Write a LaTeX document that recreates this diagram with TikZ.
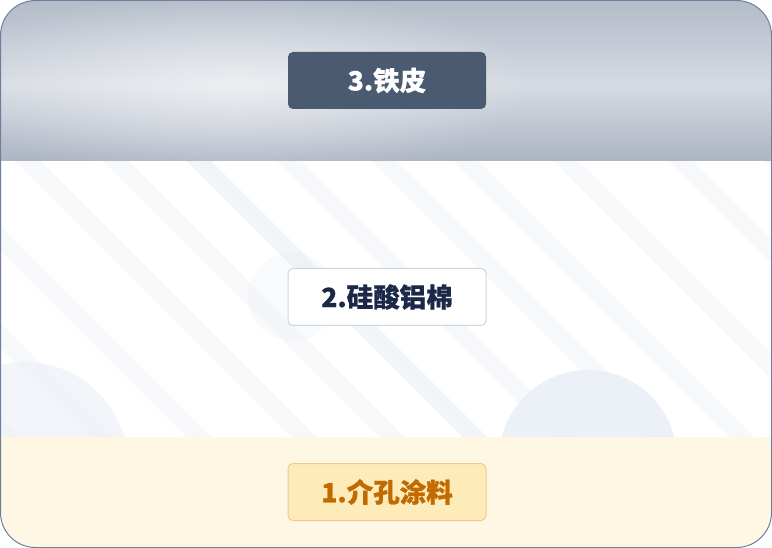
\documentclass[tikz,border=0pt]{standalone}
\usepackage{fontspec}
\newfontfamily\cjk[BoldFeatures={FakeBold=0.8}]{Noto Sans CJK SC}
\usetikzlibrary{fadings}

\definecolor{framecol}{HTML}{6E7F9C}
\definecolor{metaledge}{HTML}{ADB5C3}
\definecolor{metaltop}{HTML}{B3BBC8}
\definecolor{metalmid}{HTML}{D6DAE2}
\definecolor{stripecol}{HTML}{F7F8FA}
\definecolor{stripedark}{HTML}{F1F4F8}
\definecolor{blobcol}{HTML}{E9EFF6}
\definecolor{creamcol}{HTML}{FEF7E4}
\definecolor{slatebox}{HTML}{4A5A70}
\definecolor{woolline}{HTML}{CDD5E0}
\definecolor{wooltext}{HTML}{1B2848}
\definecolor{coatfill}{HTML}{FEEBBA}
\definecolor{coatline}{HTML}{F0C98C}
\definecolor{coattext}{HTML}{C06A00}

\tikzfading[name=softspot, inner color=transparent!0, outer color=transparent!100]

\tikzset{
  layerbox/.style={rounded corners=5pt, minimum width=198pt, minimum height=57pt,
    inner sep=0pt, line width=1pt, font=\cjk\bfseries\fontsize{26.5}{30}\selectfont},
  stripe/.style={line width=17pt, stripecol}
}

\begin{document}
\begin{tikzpicture}[x=1pt,y=-1pt]
    \useasboundingbox (0,0) rectangle (772,548);
    \begin{scope}
      \clip[rounded corners=35pt] (0.5,0.5) rectangle (771.5,547.5);
      \fill[white] (0,150) rectangle (772,440);
      \begin{scope}
        \clip (0,150) rectangle (772,440);
        \foreach \x in {-290,-195,-98,7,95,268,363,445,545,660,755}
          \draw[stripe] (\x,140) -- ++(320,320);
        \draw[stripe, stripedark] (178,140) -- ++(320,320);
        \fill[blobcol, opacity=0.25] (292,297) circle (44);
        \fill[blobcol, opacity=0.55] (25,465) circle (103);
        \fill[blobcol, opacity=0.85] (588,459) circle (89);
      \end{scope}
      \shade[top color=metaltop, bottom color=metalmid] (0,0) rectangle (772,85);
      \shade[top color=metalmid, bottom color=metaledge] (0,85) rectangle (772,160.5);
      \fill[white, opacity=0.55, path fading=softspot] (235,85) ellipse (300 and 95);
      \fill[creamcol] (0,437) rectangle (772,548);
    \end{scope}
    \draw[framecol, line width=1pt, rounded corners=35pt] (0.5,0.5) rectangle (771.5,547.5);
    \node[layerbox, fill=slatebox, text=white] (tiepi) at (387,80.5) {3.铁皮};
    \node[layerbox, fill=white, draw=woolline, text=wooltext] (mian) at (387,297) {2.硅酸铝棉};
    \node[layerbox, fill=coatfill, draw=coatline, text=coattext] (tuliao) at (387,492) {1.介孔涂料};
  \end{tikzpicture}
\end{document}
